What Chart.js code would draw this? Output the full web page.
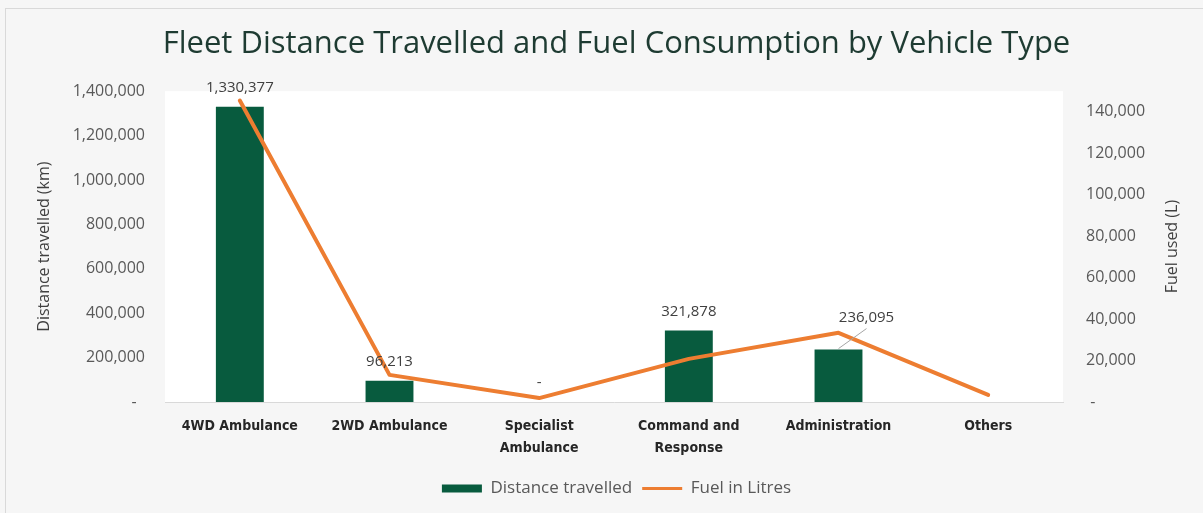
<!DOCTYPE html>
<html>
<head>
<meta charset="utf-8">
<script src="https://cdn.jsdelivr.net/npm/chart.js@4.4.1/dist/chart.umd.min.js"></script>
<style>
  html, body { margin: 0; padding: 0; background: #f6f6f6; }
  #wrap { width: 1203px; height: 513px; }
</style>
</head>
<body>
<div id="wrap"><canvas id="fleetChart" width="1203" height="513"></canvas></div>
<script>
var categories = ['4WD Ambulance', '2WD Ambulance', ['Specialist', 'Ambulance'], ['Command and', 'Response'], 'Administration', 'Others'];
var distanceKm = [1330377, 96213, 0, 321878, 236095, null];
var fuelLitres = [145500, 13100, 1900, 20800, 33400, 3400];
var distanceTicks = [0, 200000, 400000, 600000, 800000, 1000000, 1200000, 1400000];
var fuelTicks = [0, 20000, 40000, 60000, 80000, 100000, 120000, 140000];

var GREEN = '#085b3e';
var ORANGE = '#ed7d31';
var TEXT = '#595959';
var FONT = "'Open Sans', 'Liberation Sans', sans-serif";
var NARROW = "'Liberation Sans Narrow', 'DejaVu Sans Condensed', sans-serif";

function fmt(v) {
  return Number(v).toLocaleString('en-US');
}

// background, border and white plot area
var backdrop = {
  id: 'backdrop',
  beforeDraw: function(chart) {
    var ctx = chart.ctx, a = chart.chartArea;
    ctx.save();
    ctx.fillStyle = '#f6f6f6';
    ctx.fillRect(0, 0, chart.width, chart.height);
    ctx.strokeStyle = '#d9d9d9';
    ctx.lineWidth = 1;
    ctx.strokeRect(5.5, 8.5, chart.width + 20, chart.height + 20);
    ctx.fillStyle = '#ffffff';
    ctx.fillRect(a.left, a.top, a.right - a.left, a.bottom - a.top);
    ctx.restore();
  }
};

// bar value labels + right axis title
var barLabels = {
  id: 'barLabels',
  afterDatasetsDraw: function(chart) {
    var ctx = chart.ctx;
    var meta = chart.getDatasetMeta(0);
    var shift = { 4: { dx: 28, dy: -13 } };
    ctx.save();
    ctx.font = '15px ' + FONT;
    ctx.fillStyle = '#404040';
    ctx.textAlign = 'center';
    ctx.textBaseline = 'middle';
    meta.data.forEach(function(bar, i) {
      var v = distanceKm[i];
      if (v === null || v === undefined) return;
      var s = shift[i] || { dx: 0, dy: 0 };
      var x = bar.x + s.dx, y = bar.y - 19 + s.dy;
      if (shift[i]) {
        ctx.strokeStyle = '#a6a6a6';
        ctx.lineWidth = 1;
        ctx.beginPath();
        ctx.moveTo(bar.x, bar.y - 1);
        ctx.lineTo(x, y + 11);
        ctx.stroke();
      }
      ctx.fillText(v === 0 ? '-' : fmt(v), x, y);
    });
    // right axis title reads bottom to top
    var yr = chart.scales.yFuel;
    ctx.font = '16px ' + FONT;
    ctx.fillStyle = '#404040';
    ctx.translate(1172, (yr.top + yr.bottom) / 2);
    ctx.rotate(-Math.PI / 2);
    ctx.fillText('Fuel used (L)', 0, 0);
    ctx.restore();
  }
};

new Chart(document.getElementById('fleetChart'), {
  type: 'bar',
  data: {
    labels: categories,
    datasets: [{
      type: 'bar',
      label: 'Distance travelled',
      data: distanceKm,
      backgroundColor: GREEN,
      borderWidth: 0,
      categoryPercentage: 1,
      barPercentage: 0.32,
      yAxisID: 'yDist',
      order: 2
    }, {
      type: 'line',
      label: 'Fuel in Litres',
      data: fuelLitres,
      borderColor: ORANGE,
      backgroundColor: ORANGE,
      borderWidth: 4,
      pointRadius: 0,
      borderCapStyle: 'round',
      borderJoinStyle: 'round',
      tension: 0,
      yAxisID: 'yFuel',
      order: 1
    }]
  },
  options: {
    responsive: false,
    animation: false,
    layout: { padding: { left: 30, right: 0, top: 0, bottom: 6 } },
    plugins: {
      title: {
        display: true,
        text: 'Fleet Distance Travelled and Fuel Consumption by Vehicle Type',
        color: '#1e3b32',
        font: { family: FONT, size: 31, weight: 'normal' },
        padding: { top: 26, bottom: 28 }
      },
      legend: {
        position: 'bottom',
        labels: {
          color: TEXT,
          font: { family: FONT, size: 17 },
          usePointStyle: true,
          pointStyleWidth: 40,
          boxHeight: 8,
          padding: 10,
          generateLabels: function(chart) {
            var items = Chart.defaults.plugins.legend.labels.generateLabels(chart);
            items.sort(function(a, b) { return a.datasetIndex - b.datasetIndex; });
            items.forEach(function(it) {
              if (it.datasetIndex === 0) {
                it.pointStyle = 'rect';
                it.lineWidth = 0;
              } else {
                it.pointStyle = 'line';
                it.lineWidth = 3;
              }
            });
            return items;
          }
        }
      },
      tooltip: { enabled: false }
    },
    scales: {
      x: {
        grid: { display: false, drawTicks: false },
        border: { display: true, color: '#d9d9d9', width: 1 },
        ticks: {
          color: '#262626',
          font: { family: NARROW, size: 14, weight: 'bold', lineHeight: 1.6 },
          padding: 13,
          maxRotation: 0,
          autoSkip: false
        },
        afterFit: function(scale) { scale.height = 68; }
      },
      yDist: {
        position: 'left',
        min: 0,
        max: 1400000,
        grid: { display: false, drawTicks: false },
        border: { display: false },
        afterBuildTicks: function(scale) {
          scale.ticks = distanceTicks.map(function(v) { return { value: v }; });
        },
        ticks: {
          color: TEXT,
          font: { family: FONT, size: 16 },
          padding: 20,
          callback: function(v) { return v === 0 ? '-  ' : fmt(v); }
        },
        title: {
          display: true,
          text: 'Distance travelled (km)',
          color: '#404040',
          font: { family: FONT, size: 16 },
          padding: { top: 5, bottom: 0 }
        },
        afterFit: function(scale) { scale.width = 135; }
      },
      yFuel: {
        position: 'right',
        min: 0,
        max: 150000,
        grid: { display: false, drawTicks: false },
        border: { display: false },
        afterBuildTicks: function(scale) {
          scale.ticks = fuelTicks.map(function(v) { return { value: v }; });
        },
        ticks: {
          color: TEXT,
          font: { family: FONT, size: 16 },
          padding: 23,
          callback: function(v) { return v === 0 ? ' -' : fmt(v); }
        },
        afterFit: function(scale) { scale.width = 140; }
      }
    }
  },
  plugins: [backdrop, barLabels]
});
</script>
</body>
</html>
